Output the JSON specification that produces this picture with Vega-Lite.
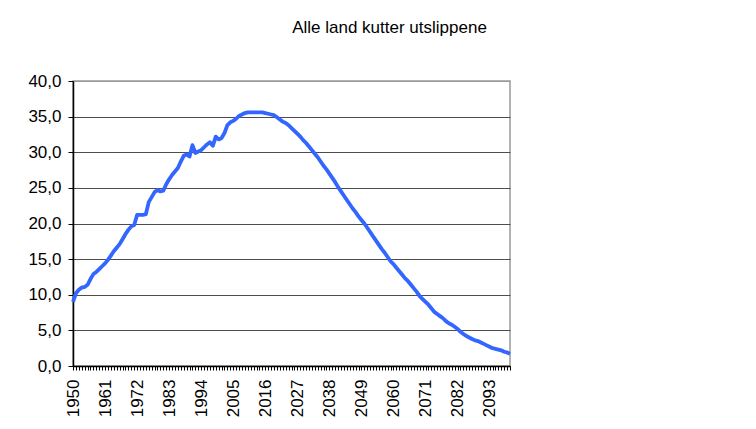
{
  "$schema": "https://vega.github.io/schema/vega-lite/v6.json",
  "width": 437,
  "height": 285,
  "autosize": {"type": "none"},
  "padding": {"left": 73, "top": 81, "right": 246, "bottom": 63},
  "background": "white",
  "title": {
    "text": "Alle land kutter utslippene",
    "anchor": "middle",
    "dx": 98,
    "offset": 35,
    "font": "Liberation Sans",
    "fontSize": 17,
    "fontWeight": "normal",
    "color": "black"
  },
  "config": {
    "view": {"stroke": "#999999", "strokeWidth": 1.5},
    "font": "Liberation Sans"
  },
  "data": {
    "values": [
      {"year":1950,"value":9.0},{"year":1951,"value":10.2},{"year":1952,"value":10.7},{"year":1953,"value":11.0},{"year":1954,"value":11.1},
      {"year":1955,"value":11.4},{"year":1956,"value":12.2},{"year":1957,"value":12.9},{"year":1958,"value":13.2},{"year":1959,"value":13.6},
      {"year":1960,"value":14.0},{"year":1961,"value":14.4},{"year":1962,"value":14.9},{"year":1963,"value":15.5},{"year":1964,"value":16.1},
      {"year":1965,"value":16.6},{"year":1966,"value":17.1},{"year":1967,"value":17.8},{"year":1968,"value":18.5},{"year":1969,"value":19.1},
      {"year":1970,"value":19.6},{"year":1971,"value":19.8},{"year":1972,"value":21.2},{"year":1973,"value":21.2},{"year":1974,"value":21.2},
      {"year":1975,"value":21.3},{"year":1976,"value":23.0},{"year":1977,"value":23.7},{"year":1978,"value":24.4},{"year":1979,"value":24.7},
      {"year":1980,"value":24.5},{"year":1981,"value":24.6},{"year":1982,"value":25.5},{"year":1983,"value":26.2},{"year":1984,"value":26.8},
      {"year":1985,"value":27.3},{"year":1986,"value":27.8},{"year":1987,"value":28.7},{"year":1988,"value":29.5},{"year":1989,"value":29.7},
      {"year":1990,"value":29.4},{"year":1991,"value":31.0},{"year":1992,"value":29.9},{"year":1993,"value":30.1},{"year":1994,"value":30.3},
      {"year":1995,"value":30.7},{"year":1996,"value":31.1},{"year":1997,"value":31.4},{"year":1998,"value":30.9},{"year":1999,"value":32.2},
      {"year":2000,"value":31.8},{"year":2001,"value":32.0},{"year":2002,"value":32.7},{"year":2003,"value":33.8},{"year":2004,"value":34.2},
      {"year":2005,"value":34.4},{"year":2006,"value":34.7},{"year":2007,"value":35.1},{"year":2008,"value":35.3},{"year":2009,"value":35.5},
      {"year":2010,"value":35.6},{"year":2011,"value":35.6},{"year":2012,"value":35.6},{"year":2013,"value":35.6},{"year":2014,"value":35.6},
      {"year":2015,"value":35.6},{"year":2016,"value":35.5},{"year":2017,"value":35.4},{"year":2018,"value":35.3},{"year":2019,"value":35.2},
      {"year":2020,"value":34.9},{"year":2021,"value":34.6},{"year":2022,"value":34.3},{"year":2023,"value":34.1},{"year":2024,"value":33.8},
      {"year":2025,"value":33.4},{"year":2026,"value":33.0},{"year":2027,"value":32.6},{"year":2028,"value":32.2},{"year":2029,"value":31.7},
      {"year":2030,"value":31.3},{"year":2031,"value":30.8},{"year":2032,"value":30.3},{"year":2033,"value":29.8},{"year":2034,"value":29.3},
      {"year":2035,"value":28.7},{"year":2036,"value":28.1},{"year":2037,"value":27.6},{"year":2038,"value":27.0},{"year":2039,"value":26.4},
      {"year":2040,"value":25.8},{"year":2041,"value":25.1},{"year":2042,"value":24.5},{"year":2043,"value":23.9},{"year":2044,"value":23.3},
      {"year":2045,"value":22.7},{"year":2046,"value":22.1},{"year":2047,"value":21.6},{"year":2048,"value":21.0},{"year":2049,"value":20.5},
      {"year":2050,"value":20.0},{"year":2051,"value":19.4},{"year":2052,"value":18.8},{"year":2053,"value":18.2},{"year":2054,"value":17.6},
      {"year":2055,"value":17.0},{"year":2056,"value":16.4},{"year":2057,"value":15.9},{"year":2058,"value":15.3},{"year":2059,"value":14.7},
      {"year":2060,"value":14.3},{"year":2061,"value":13.8},{"year":2062,"value":13.3},{"year":2063,"value":12.8},{"year":2064,"value":12.3},
      {"year":2065,"value":11.9},{"year":2066,"value":11.4},{"year":2067,"value":10.9},{"year":2068,"value":10.4},{"year":2069,"value":9.8},
      {"year":2070,"value":9.4},{"year":2071,"value":9.0},{"year":2072,"value":8.6},{"year":2073,"value":8.1},{"year":2074,"value":7.6},
      {"year":2075,"value":7.3},{"year":2076,"value":7.0},{"year":2077,"value":6.7},{"year":2078,"value":6.3},{"year":2079,"value":6.0},
      {"year":2080,"value":5.8},{"year":2081,"value":5.5},{"year":2082,"value":5.2},{"year":2083,"value":4.8},{"year":2084,"value":4.5},
      {"year":2085,"value":4.2},{"year":2086,"value":4.0},{"year":2087,"value":3.8},{"year":2088,"value":3.6},{"year":2089,"value":3.5},
      {"year":2090,"value":3.3},{"year":2091,"value":3.1},{"year":2092,"value":2.9},{"year":2093,"value":2.7},{"year":2094,"value":2.5},
      {"year":2095,"value":2.4},{"year":2096,"value":2.3},{"year":2097,"value":2.2},{"year":2098,"value":2.0},{"year":2099,"value":1.9},
      {"year":2100,"value":1.7}
    ]
  },
  "mark": {"type": "line", "color": "#3366FF", "strokeWidth": 3.8, "strokeJoin": "round"},
  "encoding": {
    "x": {
      "field": "year",
      "type": "ordinal",
      "scale": {"type": "point", "padding": 0},
      "axis": {
        "title": null,
        "labelAngle": -90,
        "labelExpr": "(datum.value - 1950) % 11 == 0 ? datum.label : ''",
        "labelFont": "Liberation Sans",
        "labelFontSize": 17,
        "labelColor": "black",
        "labelPadding": 9,
        "labelOverlap": false,
        "tickSize": 4,
        "tickColor": "black",
        "domainColor": "black",
        "domainWidth": 1.5,
        "grid": false
      }
    },
    "y": {
      "field": "value",
      "type": "quantitative",
      "scale": {"domain": [0, 40], "nice": false},
      "axis": {
        "title": null,
        "values": [0, 5, 10, 15, 20, 25, 30, 35, 40],
        "labelExpr": "replace(format(datum.value, '.1f'), '.', ',')",
        "labelFont": "Liberation Sans",
        "labelFontSize": 17,
        "labelColor": "black",
        "labelPadding": 7,
        "tickSize": 5,
        "tickColor": "black",
        "domainColor": "black",
        "domainWidth": 1.5,
        "grid": true,
        "gridColor": {"condition": {"test": "datum.value == 40", "value": "#999999"}, "value": "#4d4d4d"},
        "gridWidth": 1.2,
        "gridOpacity": 1
      }
    }
  }
}
